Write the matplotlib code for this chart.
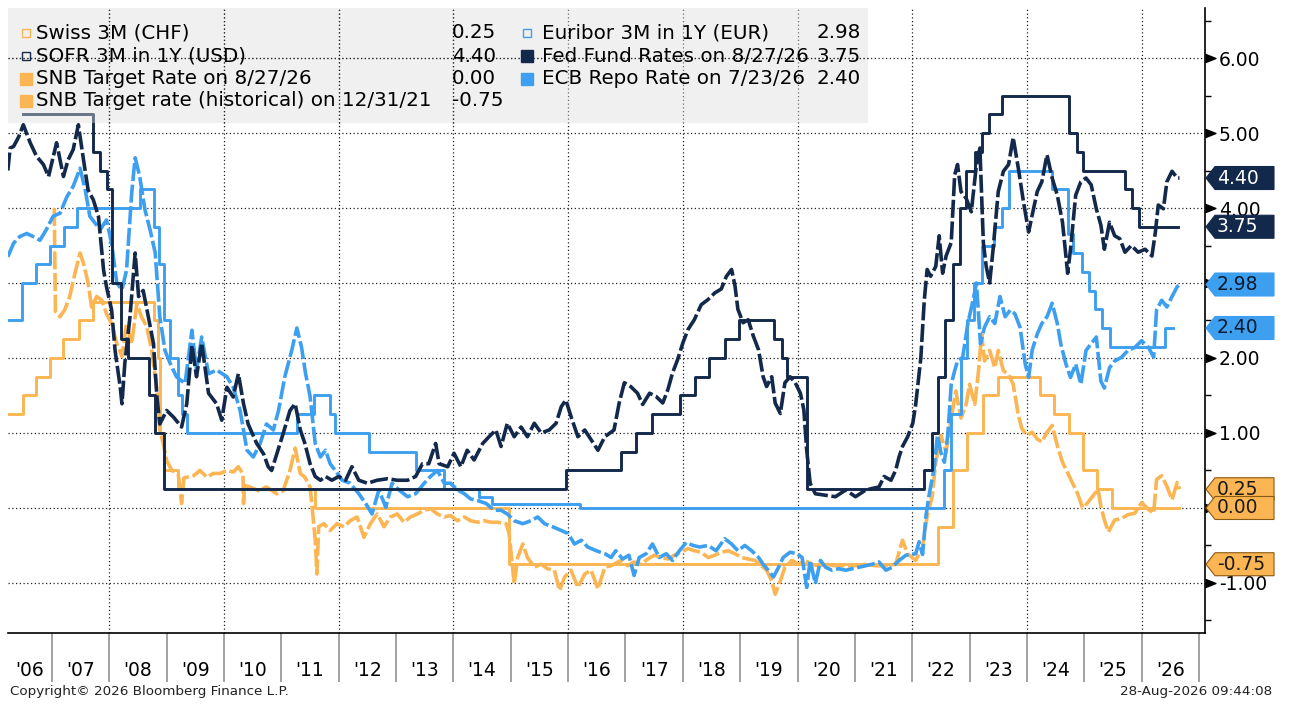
import matplotlib.pyplot as plt
import matplotlib.ticker as mticker
from matplotlib.patches import Polygon, Rectangle
from matplotlib.transforms import blended_transform_factory
import numpy as np

plt.rcParams['font.family'] = ['DejaVu Sans']

NAVY = '#13294b'
BLUE = '#3d9ff0'
ORANGE = '#fbb552'

# dashed market series: [decimal year, rate]
swiss3m = np.array([
    [2007.04, 4.00], [2007.06, 2.62], [2007.14, 2.55], [2007.22, 2.64], [2007.31, 2.82], [2007.40, 3.13],
    [2007.49, 3.40], [2007.55, 3.26], [2007.63, 3.00], [2007.69, 2.68], [2007.78, 2.82], [2007.87, 2.77],
    [2007.95, 2.59], [2008.04, 2.46], [2008.13, 2.19], [2008.22, 2.02], [2008.30, 2.46], [2008.39, 2.19],
    [2008.48, 2.73], [2008.56, 2.55], [2008.65, 2.42], [2008.74, 2.10], [2008.83, 1.57], [2008.88, 1.04],
    [2008.94, 0.86], [2009.00, 0.63], [2009.09, 0.50], [2009.20, 0.46], [2009.26, 0.06], [2009.30, 0.40],
    [2009.35, 0.41], [2009.47, 0.43], [2009.58, 0.50], [2009.70, 0.41], [2009.81, 0.46], [2009.93, 0.46],
    [2010.05, 0.50], [2010.16, 0.48], [2010.25, 0.55], [2010.33, 0.45], [2010.34, 0.06], [2010.36, 0.30],
    [2010.45, 0.28], [2010.60, 0.23], [2010.74, 0.28], [2010.92, 0.19], [2011.03, 0.23], [2011.15, 0.50],
    [2011.24, 0.80], [2011.33, 0.46], [2011.41, 0.41], [2011.50, 0.28], [2011.53, 0.06], [2011.59, -0.43],
    [2011.62, -0.88], [2011.65, -0.25], [2011.74, -0.21], [2011.85, -0.30], [2011.97, -0.21], [2012.09, -0.25],
    [2012.20, -0.17], [2012.32, -0.12], [2012.44, -0.39], [2012.55, -0.21], [2012.67, -0.08], [2012.79, -0.25],
    [2012.90, -0.12], [2013.02, -0.08], [2013.14, -0.19], [2013.25, -0.12], [2013.37, -0.08], [2013.49, -0.03],
    [2013.60, -0.01], [2013.72, -0.08], [2013.84, -0.12], [2013.95, -0.10], [2014.07, -0.17], [2014.19, -0.12],
    [2014.30, -0.17], [2014.42, -0.19], [2014.54, -0.17], [2014.65, -0.19], [2014.77, -0.19], [2014.92, -0.21],
    [2014.97, -0.34], [2015.03, -0.79], [2015.06, -1.01], [2015.12, -0.66], [2015.21, -0.48], [2015.29, -0.66],
    [2015.41, -0.79], [2015.53, -0.75], [2015.64, -0.81], [2015.76, -0.83], [2015.85, -1.10], [2015.94, -0.92],
    [2016.05, -0.83], [2016.17, -1.06], [2016.29, -0.88], [2016.40, -0.83], [2016.52, -1.08], [2016.64, -0.79],
    [2016.75, -0.77], [2016.92, -0.70], [2017.04, -0.77], [2017.15, -0.72], [2017.27, -0.75], [2017.39, -0.68],
    [2017.50, -0.63], [2017.62, -0.66], [2017.74, -0.68], [2017.85, -0.63], [2017.97, -0.59], [2018.09, -0.54],
    [2018.20, -0.57], [2018.32, -0.59], [2018.44, -0.66], [2018.56, -0.63], [2018.67, -0.59], [2018.79, -0.57],
    [2018.91, -0.61], [2019.02, -0.66], [2019.14, -0.68], [2019.26, -0.70], [2019.37, -0.77], [2019.46, -0.83],
    [2019.55, -0.97], [2019.61, -1.15], [2019.70, -0.97], [2019.78, -0.79], [2019.90, -0.70], [2020.02, -0.75],
    [2020.13, -0.70], [2020.25, -0.75], [2020.37, -0.77], [2020.49, -0.75], [2020.66, -0.77], [2020.84, -0.77],
    [2021.01, -0.77], [2021.19, -0.75], [2021.36, -0.77], [2021.54, -0.77], [2021.71, -0.75], [2021.83, -0.43],
    [2021.92, -0.61], [2022.06, -0.70], [2022.18, -0.52], [2022.26, -0.11], [2022.35, 0.16], [2022.41, 0.61],
    [2022.50, 0.97], [2022.59, 0.74], [2022.68, 1.20], [2022.76, 1.56], [2022.85, 1.20], [2022.94, 1.38],
    [2023.00, 1.65], [2023.09, 1.38], [2023.15, 1.78], [2023.21, 2.32], [2023.26, 1.96], [2023.35, 2.10],
    [2023.44, 1.87], [2023.50, 2.10], [2023.59, 1.83], [2023.68, 1.78], [2023.76, 1.65], [2023.85, 1.24],
    [2023.91, 1.06], [2024.00, 0.97], [2024.09, 1.01], [2024.18, 0.92], [2024.26, 0.88], [2024.35, 1.01],
    [2024.44, 1.10], [2024.53, 0.83], [2024.62, 0.61], [2024.71, 0.47], [2024.79, 0.34], [2024.88, 0.20],
    [2024.97, 0.00], [2025.06, 0.07], [2025.15, 0.16], [2025.24, 0.25], [2025.29, 0.02], [2025.35, -0.16],
    [2025.42, -0.32], [2025.53, -0.16], [2025.65, -0.14], [2025.76, -0.09], [2025.88, -0.07], [2026.00, 0.07],
    [2026.12, -0.02], [2026.21, -0.07], [2026.26, 0.38], [2026.35, 0.43], [2026.44, 0.29], [2026.53, 0.11],
    [2026.62, 0.34], [2026.66, 0.25]])

sofr3m1y = np.array([
    [2006.23, 4.50], [2006.27, 4.80], [2006.33, 4.82], [2006.42, 4.95], [2006.50, 5.11], [2006.62, 4.87],
    [2006.73, 4.69], [2006.85, 4.58], [2006.94, 4.42], [2007.08, 4.87], [2007.20, 4.42], [2007.28, 4.64],
    [2007.37, 4.78], [2007.46, 5.11], [2007.55, 4.64], [2007.63, 4.24], [2007.72, 4.11], [2007.81, 3.89],
    [2007.90, 3.17], [2007.95, 2.95], [2008.04, 2.64], [2008.10, 2.10], [2008.19, 1.61], [2008.22, 1.39],
    [2008.27, 1.93], [2008.36, 2.55], [2008.45, 3.40], [2008.51, 2.82], [2008.59, 2.90], [2008.68, 2.55],
    [2008.77, 2.19], [2008.83, 1.48], [2008.88, 1.12], [2009.00, 1.30], [2009.12, 1.21], [2009.26, 1.08],
    [2009.35, 1.39], [2009.44, 2.17], [2009.52, 1.75], [2009.61, 2.20], [2009.73, 1.53], [2009.87, 1.39],
    [2009.96, 1.17], [2010.05, 1.61], [2010.16, 1.48], [2010.25, 1.79], [2010.34, 1.39], [2010.42, 1.12],
    [2010.57, 0.86], [2010.69, 0.72], [2010.77, 0.55], [2010.83, 0.50], [2010.92, 0.72], [2011.03, 0.99],
    [2011.15, 1.30], [2011.24, 1.39], [2011.33, 1.04], [2011.41, 0.86], [2011.50, 0.59], [2011.59, 0.42],
    [2011.68, 0.37], [2011.77, 0.42], [2011.88, 0.37], [2012.00, 0.42], [2012.12, 0.37], [2012.23, 0.55],
    [2012.35, 0.37], [2012.50, 0.33], [2012.67, 0.37], [2012.85, 0.39], [2013.02, 0.37], [2013.20, 0.37],
    [2013.34, 0.42], [2013.46, 0.59], [2013.57, 0.59], [2013.69, 0.86], [2013.75, 0.59], [2013.90, 0.55],
    [2014.01, 0.73], [2014.13, 0.55], [2014.24, 0.77], [2014.36, 0.64], [2014.51, 0.86], [2014.62, 0.95],
    [2014.74, 1.04], [2014.83, 0.82], [2014.94, 1.13], [2015.06, 0.95], [2015.18, 1.08], [2015.29, 0.95],
    [2015.41, 1.13], [2015.53, 1.00], [2015.67, 1.04], [2015.79, 1.13], [2015.88, 1.35], [2015.96, 1.44],
    [2016.05, 1.22], [2016.17, 0.95], [2016.29, 1.04], [2016.40, 0.91], [2016.52, 0.77], [2016.64, 0.95],
    [2016.80, 1.04], [2016.89, 1.40], [2016.98, 1.67], [2017.09, 1.62], [2017.21, 1.53], [2017.30, 1.38],
    [2017.42, 1.53], [2017.53, 1.49], [2017.65, 1.40], [2017.74, 1.58], [2017.82, 1.80], [2017.91, 1.98],
    [2018.00, 2.20], [2018.09, 2.38], [2018.20, 2.51], [2018.32, 2.71], [2018.44, 2.78], [2018.56, 2.87],
    [2018.67, 2.92], [2018.76, 3.09], [2018.85, 3.18], [2018.91, 2.96], [2018.96, 2.65], [2019.05, 2.47],
    [2019.14, 2.51], [2019.23, 2.29], [2019.32, 2.11], [2019.40, 1.75], [2019.46, 1.62], [2019.55, 1.75],
    [2019.61, 1.40], [2019.70, 1.26], [2019.78, 1.67], [2019.87, 1.75], [2019.96, 1.67], [2020.05, 1.53],
    [2020.11, 1.31], [2020.16, 0.77], [2020.22, 0.33], [2020.31, 0.19], [2020.49, 0.17], [2020.66, 0.15],
    [2020.84, 0.24], [2021.01, 0.15], [2021.19, 0.24], [2021.30, 0.26], [2021.42, 0.28], [2021.51, 0.42],
    [2021.63, 0.37], [2021.71, 0.50], [2021.77, 0.68], [2021.83, 0.82], [2021.92, 0.95], [2022.01, 1.13],
    [2022.06, 1.38], [2022.15, 2.00], [2022.21, 2.77], [2022.26, 3.18], [2022.32, 3.09], [2022.41, 3.22],
    [2022.47, 3.63], [2022.53, 3.13], [2022.59, 3.36], [2022.68, 3.54], [2022.74, 4.44], [2022.79, 4.58],
    [2022.85, 4.22], [2022.94, 4.13], [2023.03, 3.95], [2023.12, 4.58], [2023.18, 4.80], [2023.24, 3.54],
    [2023.29, 3.22], [2023.35, 3.00], [2023.41, 3.45], [2023.50, 4.22], [2023.59, 4.49], [2023.68, 4.58],
    [2023.76, 4.94], [2023.85, 4.53], [2023.94, 4.08], [2024.03, 3.68], [2024.09, 3.90], [2024.18, 4.22],
    [2024.26, 4.35], [2024.35, 4.71], [2024.44, 4.40], [2024.53, 4.17], [2024.62, 3.81], [2024.71, 3.13],
    [2024.76, 3.45], [2024.85, 4.17], [2024.94, 4.35], [2025.03, 4.40], [2025.12, 4.31], [2025.21, 3.99],
    [2025.29, 3.77], [2025.35, 3.45], [2025.44, 3.81], [2025.53, 3.63], [2025.62, 3.59], [2025.71, 3.41],
    [2025.82, 3.50], [2025.94, 3.41], [2026.06, 3.45], [2026.18, 3.36], [2026.24, 3.68], [2026.29, 4.04],
    [2026.38, 3.99], [2026.44, 4.35], [2026.53, 4.49], [2026.62, 4.40], [2026.66, 4.40]])

euribor3m1y = np.array([
    [2006.23, 3.35], [2006.33, 3.53], [2006.44, 3.62], [2006.56, 3.66], [2006.67, 3.62], [2006.79, 3.57],
    [2006.90, 3.71], [2007.02, 3.89], [2007.14, 3.93], [2007.26, 4.15], [2007.37, 4.29], [2007.49, 4.53],
    [2007.58, 4.24], [2007.66, 3.89], [2007.75, 3.80], [2007.84, 3.71], [2007.95, 3.84], [2008.04, 3.53],
    [2008.13, 3.00], [2008.22, 2.91], [2008.30, 3.17], [2008.39, 4.20], [2008.45, 4.67], [2008.53, 4.42],
    [2008.62, 3.98], [2008.71, 3.71], [2008.80, 3.40], [2008.88, 2.55], [2008.97, 2.10], [2009.06, 1.93],
    [2009.17, 1.75], [2009.32, 1.66], [2009.44, 2.37], [2009.52, 1.84], [2009.61, 2.28], [2009.73, 1.79],
    [2009.87, 1.84], [2010.05, 1.75], [2010.16, 1.61], [2010.28, 1.30], [2010.40, 0.77], [2010.51, 0.68],
    [2010.63, 0.86], [2010.74, 1.12], [2010.86, 1.04], [2010.95, 1.30], [2011.06, 1.75], [2011.18, 2.10],
    [2011.27, 2.40], [2011.35, 2.15], [2011.42, 1.80], [2011.50, 1.49], [2011.59, 0.86], [2011.68, 0.68],
    [2011.77, 0.77], [2011.85, 0.59], [2011.94, 0.50], [2012.06, 0.37], [2012.20, 0.33], [2012.35, 0.19],
    [2012.47, 0.06], [2012.58, -0.08], [2012.70, 0.24], [2012.82, 0.01], [2012.93, 0.33], [2013.05, 0.24],
    [2013.20, 0.15], [2013.34, 0.19], [2013.49, 0.33], [2013.60, 0.42], [2013.72, 0.50], [2013.84, 0.33],
    [2013.95, 0.33], [2014.07, 0.24], [2014.19, 0.19], [2014.30, 0.12], [2014.42, 0.10], [2014.57, 0.06],
    [2014.71, -0.03], [2014.83, -0.03], [2014.94, -0.08], [2015.06, -0.17], [2015.21, -0.21], [2015.35, -0.17],
    [2015.47, -0.12], [2015.59, -0.21], [2015.73, -0.25], [2015.88, -0.30], [2016.00, -0.34], [2016.11, -0.48],
    [2016.23, -0.43], [2016.34, -0.52], [2016.49, -0.57], [2016.64, -0.61], [2016.75, -0.66], [2016.83, -0.57],
    [2016.95, -0.68], [2017.06, -0.63], [2017.15, -0.90], [2017.24, -0.66], [2017.36, -0.61], [2017.47, -0.48],
    [2017.59, -0.66], [2017.71, -0.61], [2017.82, -0.70], [2017.94, -0.57], [2018.06, -0.46], [2018.18, -0.50],
    [2018.29, -0.52], [2018.44, -0.50], [2018.58, -0.57], [2018.73, -0.41], [2018.85, -0.48], [2018.96, -0.57],
    [2019.08, -0.50], [2019.20, -0.57], [2019.32, -0.66], [2019.40, -0.75], [2019.49, -0.83], [2019.58, -0.92],
    [2019.67, -0.79], [2019.75, -0.66], [2019.87, -0.59], [2019.99, -0.61], [2020.08, -0.66], [2020.16, -1.06],
    [2020.22, -0.70], [2020.31, -1.01], [2020.40, -0.70], [2020.49, -0.79], [2020.60, -0.83], [2020.72, -0.81],
    [2020.84, -0.83], [2020.95, -0.81], [2021.07, -0.79], [2021.19, -0.77], [2021.30, -0.75], [2021.42, -0.72],
    [2021.54, -0.83], [2021.65, -0.79], [2021.77, -0.70], [2021.89, -0.63], [2021.98, -0.62], [2022.06, -0.61],
    [2022.12, -0.45], [2022.18, -0.62], [2022.24, -0.10], [2022.30, 0.20], [2022.38, 0.52], [2022.44, 0.97],
    [2022.50, 0.74], [2022.56, 0.61], [2022.62, 0.97], [2022.68, 1.65], [2022.74, 1.83], [2022.79, 1.96],
    [2022.88, 2.01], [2022.97, 2.46], [2023.06, 2.77], [2023.12, 3.00], [2023.19, 2.19], [2023.26, 2.41],
    [2023.35, 2.55], [2023.44, 2.46], [2023.53, 2.82], [2023.62, 2.55], [2023.71, 2.64], [2023.79, 2.59],
    [2023.88, 2.41], [2023.97, 1.92], [2024.03, 1.74], [2024.09, 2.10], [2024.18, 2.32], [2024.26, 2.46],
    [2024.35, 2.55], [2024.44, 2.73], [2024.53, 2.46], [2024.59, 2.19], [2024.68, 1.92], [2024.76, 1.74],
    [2024.85, 1.92], [2024.94, 1.65], [2025.03, 2.10], [2025.12, 2.19], [2025.21, 2.28], [2025.29, 1.69],
    [2025.35, 1.60], [2025.44, 1.87], [2025.53, 1.96], [2025.65, 2.01], [2025.76, 2.10], [2025.88, 2.14],
    [2026.00, 2.23], [2026.12, 2.14], [2026.21, 2.01], [2026.26, 2.64], [2026.35, 2.77], [2026.44, 2.68],
    [2026.53, 2.82], [2026.62, 2.95], [2026.66, 2.98]])

# policy rates: [date the rate took effect, rate]
snbHist = np.array([
    [2006.23, 1.25], [2006.50, 1.50], [2006.72, 1.75], [2006.97, 2.00], [2007.20, 2.25], [2007.47, 2.50],
    [2007.72, 2.75], [2008.78, 2.50], [2008.85, 2.00], [2008.89, 1.00], [2008.95, 0.50], [2009.20, 0.25],
    [2011.58, 0.00], [2014.97, -0.75], [2021.99, -0.75]])
snbTarget = np.array([
    [2021.99, -0.75], [2022.45, -0.25], [2022.71, 0.50], [2022.95, 1.00], [2023.23, 1.50], [2023.50, 1.75],
    [2024.22, 1.50], [2024.47, 1.25], [2024.73, 1.00], [2024.97, 0.50], [2025.22, 0.25], [2025.48, 0.00],
    [2026.66, 0.00]])
fedFunds = np.array([
    [2006.49, 5.25], [2007.72, 4.75], [2007.84, 4.50], [2007.96, 4.25], [2008.05, 3.00], [2008.21, 2.25],
    [2008.33, 2.00], [2008.70, 1.50], [2008.80, 1.00], [2008.96, 0.25], [2015.96, 0.50], [2016.93, 0.75],
    [2017.19, 1.00], [2017.46, 1.25], [2017.95, 1.50], [2018.22, 1.75], [2018.45, 2.00], [2018.74, 2.25],
    [2018.98, 2.50], [2019.59, 2.25], [2019.73, 2.00], [2019.81, 1.75], [2020.16, 0.25], [2022.20, 0.50],
    [2022.35, 1.00], [2022.45, 1.75], [2022.57, 2.50], [2022.71, 3.25], [2022.83, 4.00], [2022.94, 4.50],
    [2023.09, 4.75], [2023.21, 5.00], [2023.33, 5.25], [2023.56, 5.50], [2024.73, 5.00], [2024.87, 4.75],
    [2024.98, 4.50], [2025.71, 4.25], [2025.84, 4.00], [2025.96, 3.75], [2026.64, 3.75]])
ecbRepo = np.array([
    [2006.23, 2.50], [2006.47, 3.00], [2006.72, 3.25], [2006.97, 3.50], [2007.21, 3.75], [2007.44, 4.00],
    [2008.53, 4.25], [2008.78, 3.75], [2008.87, 3.25], [2008.95, 2.50], [2009.06, 2.00], [2009.19, 1.50],
    [2009.27, 1.25], [2009.36, 1.00], [2011.27, 1.25], [2011.56, 1.50], [2011.85, 1.25], [2011.94, 1.00],
    [2012.52, 0.75], [2013.34, 0.50], [2013.84, 0.25], [2014.45, 0.15], [2014.68, 0.05], [2016.20, 0.00],
    [2022.56, 0.50], [2022.67, 1.25], [2022.85, 2.00], [2022.96, 2.50], [2023.08, 3.00], [2023.22, 3.50],
    [2023.43, 3.75], [2023.57, 4.00], [2023.68, 4.50], [2024.43, 4.25], [2024.71, 3.65], [2024.81, 3.40],
    [2024.96, 3.15], [2025.08, 2.90], [2025.19, 2.65], [2025.31, 2.40], [2025.44, 2.15], [2026.40, 2.40],
    [2026.54, 2.40]])

legendLeft = [("Swiss 3M (CHF)", "0.25", ORANGE, False),
              ("SOFR 3M in 1Y (USD)", "4.40", NAVY, False),
              ("SNB Target Rate on 8/27/26", "0.00", ORANGE, True),
              ("SNB Target rate (historical) on 12/31/21", "-0.75", ORANGE, True)]
legendRight = [("Euribor 3M in 1Y (EUR)", "2.98", BLUE, False),
               ("Fed Fund Rates on 8/27/26", "3.75", NAVY, True),
               ("ECB Repo Rate on 7/23/26", "2.40", BLUE, True)]

lastTags = [(4.40, "4.40", NAVY, 'white'), (3.75, "3.75", NAVY, 'white'),
            (2.98, "2.98", BLUE, '#0b1a2c'), (2.40, "2.40", BLUE, '#0b1a2c'),
            (0.25, "0.25", ORANGE, '#1a1a1a'), (0.00, "0.00", ORANGE, '#1a1a1a'),
            (-0.75, "-0.75", ORANGE, '#1a1a1a')]

years = list(range(2006, 2027))

W, H = 1301, 724
fig = plt.figure(figsize=(W / 100, H / 100), dpi=100)
ax = fig.add_axes([8 / W, (H - 633) / H, 1197 / W, 625 / H])
ax.set_xlim(2006.233, 2027.105)
ax.set_ylim(-1.667, 6.667)

def axx(px):
    return (px - 8) / 1197

def axy(py):
    return (633 - py) / 625

# grid
gridStyle = dict(color='#222222', lw=0.9, ls=(0, (1, 2)))
for yr in range(2008, 2027, 2):
    ax.axvline(yr, zorder=1, **gridStyle)
for v in range(-1, 7):
    ax.axhline(v, zorder=1, **gridStyle)

# lines
dash = (0, (5, 1))
ax.plot(snbHist[:, 0], snbHist[:, 1], drawstyle='steps-post', color=ORANGE, lw=2.1, zorder=2)
ax.plot(snbTarget[:, 0], snbTarget[:, 1], drawstyle='steps-post', color=ORANGE, lw=2.1, zorder=2)
ax.plot(swiss3m[:, 0], swiss3m[:, 1], color=ORANGE, lw=2.6, ls=dash, zorder=2)
ax.plot(ecbRepo[:, 0], ecbRepo[:, 1], drawstyle='steps-post', color=BLUE, lw=2.1, zorder=2)
ax.plot(euribor3m1y[:, 0], euribor3m1y[:, 1], color=BLUE, lw=2.6, ls=dash, zorder=2)
ax.plot(fedFunds[:, 0], fedFunds[:, 1], drawstyle='steps-post', color=NAVY, lw=2.1, zorder=2)
ax.plot(sofr3m1y[:, 0], sofr3m1y[:, 1], color=NAVY, lw=2.6, ls=dash, zorder=2)

# legend panel (translucent, the grid shows through)
ax.add_patch(Rectangle((0, axy(123)), axx(868), 1 - axy(123), transform=ax.transAxes,
                       facecolor='#dcdcdc', alpha=0.42, edgecolor='none', zorder=3))
for yr in range(2008, 2016, 2):
    ax.plot([yr, yr], [axy(123), 1], transform=ax.get_xaxis_transform(), zorder=4, **gridStyle)
ax.plot([0, axx(868)], [axy(58), axy(58)], transform=ax.transAxes, zorder=4, **gridStyle)

rowsY = [33, 56, 79, 101]
legendFont = 14.3
for (label, val, col, filled), py in zip(legendLeft, rowsY):
    if filled:
        ax.plot([axx(26)], [axy(py)], transform=ax.transAxes, marker='s', ms=8, color=col,
                ls='none', zorder=5, clip_on=False)
    else:
        ax.plot([axx(26)], [axy(py)], transform=ax.transAxes, marker='s', ms=5.5, mfc='none',
                mec=col, mew=1.0, ls='none', zorder=5, clip_on=False)
    ax.text(axx(36), axy(py), label, transform=ax.transAxes, fontsize=legendFont, va='center', zorder=5)
    ax.text(axx(452), axy(py), val, transform=ax.transAxes, fontsize=legendFont, va='center', zorder=5)
for (label, val, col, filled), py in zip(legendRight, rowsY):
    if filled:
        ax.plot([axx(527)], [axy(py)], transform=ax.transAxes, marker='s', ms=8, color=col,
                ls='none', zorder=5, clip_on=False)
    else:
        ax.plot([axx(527)], [axy(py)], transform=ax.transAxes, marker='s', ms=5.5, mfc='none',
                mec=col, mew=1.0, ls='none', zorder=5, clip_on=False)
    ax.text(axx(542), axy(py), label, transform=ax.transAxes, fontsize=legendFont, va='center', zorder=5)
    ax.text(axx(816), axy(py), val, transform=ax.transAxes, fontsize=legendFont, va='center', zorder=5)

# spines and axes
for s in ['left', 'top']:
    ax.spines[s].set_visible(False)
for s in ['right', 'bottom']:
    ax.spines[s].set_color('black')
    ax.spines[s].set_linewidth(1.2)

ax.yaxis.tick_right()
ax.set_yticks(range(-1, 7))
ax.set_yticklabels([f'{v:.2f}' for v in range(-1, 7)])
ax.yaxis.set_minor_locator(mticker.FixedLocator(np.arange(-1.5, 7, 1.0)))
ax.tick_params(axis='y', which='major', length=0, pad=10, labelsize=13.5)
ax.tick_params(axis='y', which='minor', length=4, width=1, color='black')
tri = [(0, -0.4), (1, 0), (0, 0.4)]
ax.plot(np.ones(8), range(-1, 7), transform=ax.get_yaxis_transform(), marker=tri, ms=15,
        color='black', ls='none', clip_on=False, zorder=6)

ax.set_xticks(range(2007, 2028))
ax.tick_params(axis='x', which='major', length=35, width=1.3, color='#9a9a9a', labelbottom=False)
for yr in years:
    lo = max(yr, 2006.233)
    ax.text((lo + yr + 1) / 2, axy(670), "'" + str(yr)[2:], transform=ax.get_xaxis_transform(),
            ha='center', va='center', fontsize=13.5)

# last-value tags on the right
tagTrans = blended_transform_factory(fig.transFigure, ax.transData)
hh = 11.5 / 75
for v, txt, fc, tc in lastTags:
    pts = [(1206 / W, v), (1215 / W, v + hh), (1274 / W, v + hh), (1274 / W, v - hh), (1215 / W, v - hh)]
    ec = '#8a5a14' if fc == ORANGE else fc
    ax.add_patch(Polygon(pts, closed=True, transform=tagTrans, facecolor=fc, edgecolor=ec, lw=0.8,
                         clip_on=False, zorder=10))
    ax.text(1217 / W, v, txt, transform=tagTrans, color=tc, fontsize=13.5, va='center', ha='left',
            zorder=11, clip_on=False)

fig.text(10 / W, 1 - 692 / H, 'Copyright\u00a9 2026 Bloomberg Finance L.P.', fontsize=9.7, va='center', color='#222222')
fig.text(1272 / W, 1 - 692 / H, '28-Aug-2026 09:44:08', fontsize=9.7, va='center', ha='right', color='#222222')

fig.savefig('out.png', dpi=100)
